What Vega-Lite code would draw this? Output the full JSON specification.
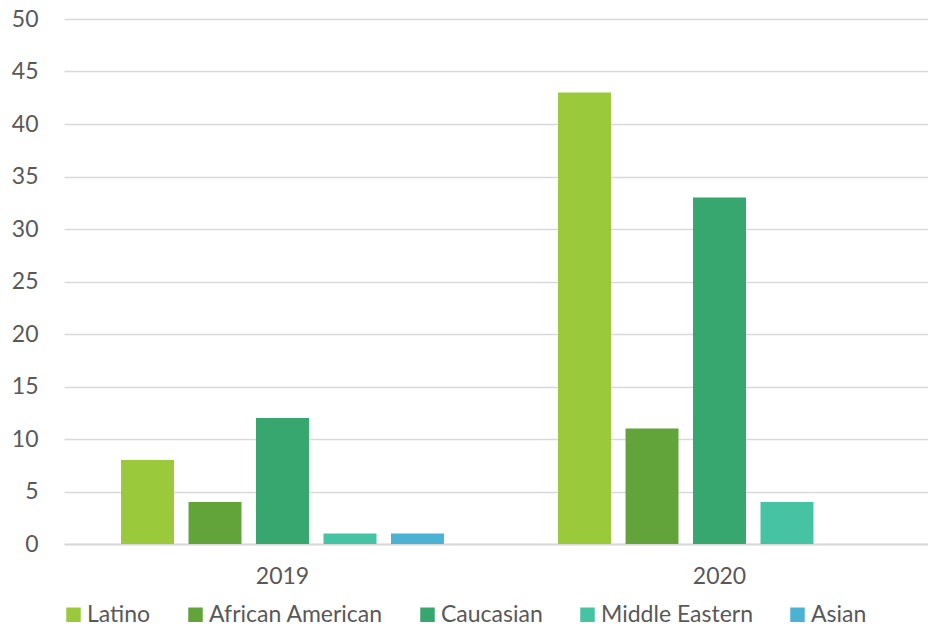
{
  "$schema": "https://vega.github.io/schema/vega-lite/v6.json",
  "autosize": "none",
  "width": 864,
  "height": 525,
  "padding": {"left": 64, "top": 19, "right": 0, "bottom": 83},
  "background": "white",
  "config": {
    "font": "Lato",
    "view": {"stroke": null},
    "axis": {"labelFont": "Lato", "labelColor": "#595959", "labelFontSize": 23}
  },
  "data": {
    "values": [
      {"year": "2019", "group": "Latino", "value": 8},
      {"year": "2019", "group": "African American", "value": 4},
      {"year": "2019", "group": "Caucasian", "value": 12},
      {"year": "2019", "group": "Middle Eastern", "value": 1},
      {"year": "2019", "group": "Asian", "value": 1},
      {"year": "2020", "group": "Latino", "value": 43},
      {"year": "2020", "group": "African American", "value": 11},
      {"year": "2020", "group": "Caucasian", "value": 33},
      {"year": "2020", "group": "Middle Eastern", "value": 4},
      {"year": "2020", "group": "Asian", "value": 0}
    ]
  },
  "mark": {"type": "bar"},
  "encoding": {
    "x": {
      "field": "year", "type": "nominal",
      "scale": {"range": [0, 874], "paddingInner": 0, "paddingOuter": 0},
      "axis": {"title": null, "labelAngle": 0, "ticks": false, "domainColor": "#D9D9D9", "domainWidth": 2, "labelPadding": 21, "grid": false}
    },
    "xOffset": {
      "field": "group", "type": "nominal",
      "sort": ["Latino", "African American", "Caucasian", "Middle Eastern", "Asian"],
      "scale": {"paddingInner": 0.215, "paddingOuter": 0.845}
    },
    "y": {
      "field": "value", "type": "quantitative",
      "scale": {"domain": [0, 50], "nice": false},
      "axis": {"title": null, "values": [0, 5, 10, 15, 20, 25, 30, 35, 40, 45, 50], "labelOverlap": false, "domain": false, "ticks": false, "labelPadding": 26, "gridColor": "#D9D9D9", "gridWidth": 1.3}
    },
    "color": {
      "field": "group", "type": "nominal",
      "sort": ["Latino", "African American", "Caucasian", "Middle Eastern", "Asian"],
      "scale": {
        "domain": ["Latino", "African American", "Caucasian", "Middle Eastern", "Asian"],
        "range": ["#9ACA3C", "#62A43A", "#37A66F", "#45C3A3", "#4BB2D3"]
      },
      "legend": {
        "title": null, "orient": "none", "direction": "horizontal",
        "legendX": -2, "legendY": 584,
        "symbolType": "square", "symbolSize": 210, "symbolStrokeWidth": 0,
        "labelFontSize": 23, "labelColor": "#595959", "labelFont": "Lato", "labelLimit": 400,
        "labelOffset": 2, "columnPadding": 33
      }
    }
  }
}
